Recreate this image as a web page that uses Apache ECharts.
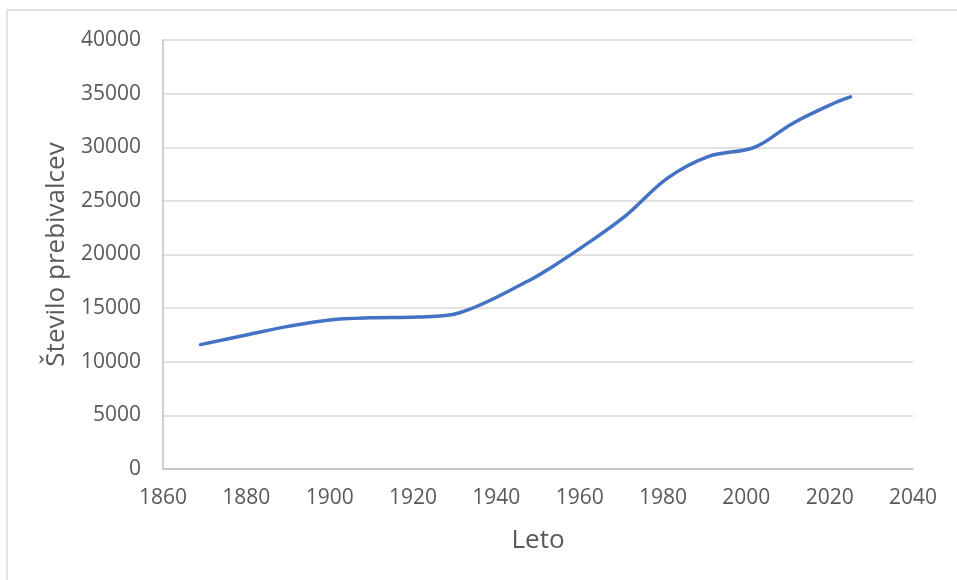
<!DOCTYPE html>
<html>
<head>
<meta charset="utf-8">
<script src="https://cdn.jsdelivr.net/npm/echarts@6/dist/echarts.min.js"></script>
<style>
  html, body { margin: 0; padding: 0; background: #fff; }
  #main { width: 957px; height: 580px; }
</style>
</head>
<body>
<div id="main"></div>
<script>
// leta popisov in število prebivalcev (odčitano z grafa)
var years = [1869, 1880, 1890, 1900, 1910, 1921, 1931, 1948, 1953, 1961, 1971, 1981, 1991, 2002, 2011, 2021, 2025];
var population = [11600, 12500, 13300, 13900, 14100, 14170, 14550, 17600, 18750, 20800, 23600, 27100, 29150, 30000, 32200, 34100, 34700];

var textColor = '#595959';
var myChart = echarts.init(document.getElementById('main'));

var option = {
    animation: false,
    graphic: [{
        type: 'rect',
        shape: { x: 7, y: 10, width: 960, height: 580 },
        style: { fill: 'none', stroke: '#d9d9d9', lineWidth: 1.5 }
    }],
    grid: {
        left: 163,
        right: 44,
        top: 40,
        bottom: 111
    },
    xAxis: {
        type: 'value',
        min: 1860,
        max: 2040,
        interval: 20,
        name: 'Leto',
        nameLocation: 'middle',
        nameGap: 59,
        nameTextStyle: { color: textColor, fontSize: 26, fontFamily: 'Open Sans' },
        axisLine: { show: true, lineStyle: { color: '#bfbfbf', width: 1.5 } },
        axisTick: { show: false },
        splitLine: { show: false },
        axisLabel: {
            color: textColor, fontSize: 21, fontFamily: 'Open Sans', margin: 19,
            formatter: function (v) { return String(v); }
        }
    },
    yAxis: {
        type: 'value',
        min: 0,
        max: 40000,
        interval: 5000,
        name: 'Število prebivalcev',
        nameLocation: 'middle',
        nameGap: 88,
        nameRotate: 90,
        nameTextStyle: { color: textColor, fontSize: 26, fontFamily: 'Open Sans' },
        axisLine: { show: true, lineStyle: { color: '#bfbfbf', width: 1.5 } },
        axisTick: { show: false },
        splitLine: { show: true, lineStyle: { color: '#d9d9d9', width: 1.5 } },
        axisLabel: {
            color: textColor, fontSize: 21, fontFamily: 'Open Sans', margin: 22,
            formatter: function (v) { return String(v); }
        }
    },
    series: [{
        type: 'line',
        data: years.map(function (y, i) { return [y, population[i]]; }),
        smooth: 0.35,
        showSymbol: false,
        lineStyle: { color: '#4472c4', width: 3.5, cap: 'round' }
    }]
};

myChart.setOption(option);
</script>
</body>
</html>
